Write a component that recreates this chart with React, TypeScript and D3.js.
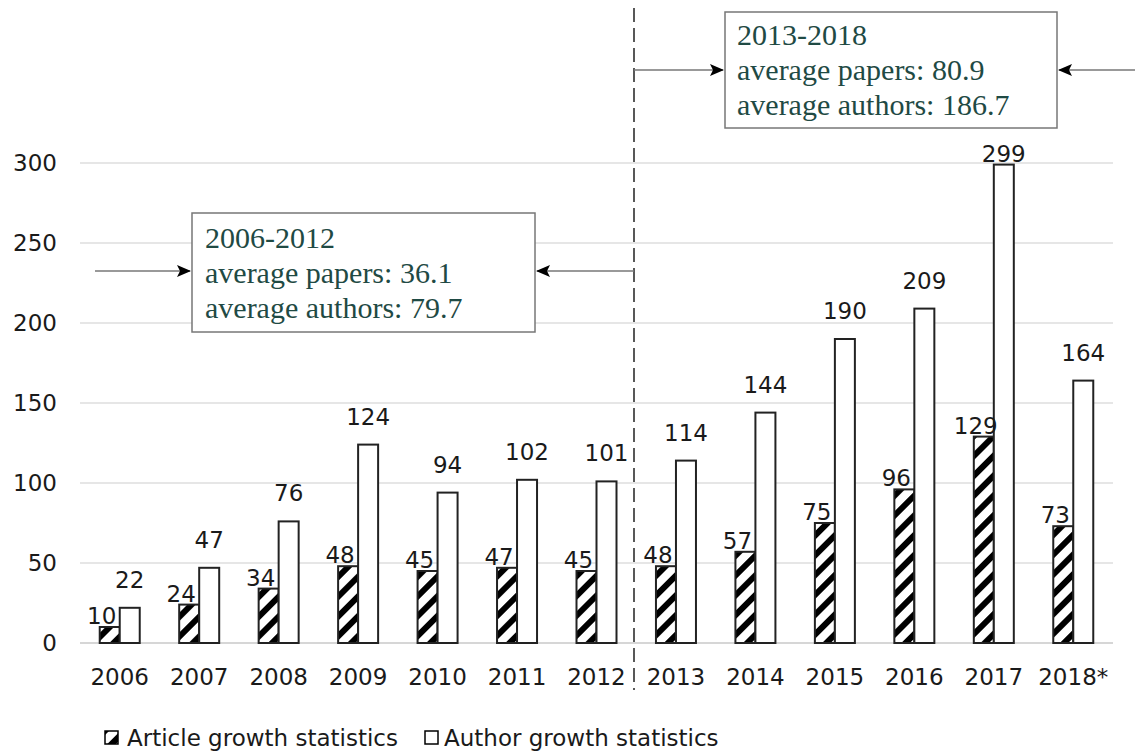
import React from "react";
import * as d3 from "d3";

const years = ["2006","2007","2008","2009","2010","2011","2012","2013","2014","2015","2016","2017","2018*"];
const articles = [10,24,34,48,45,47,45,48,57,75,96,129,73];
const authors = [22,47,76,124,94,102,101,114,144,190,209,299,164];
const yTicks = [0,50,100,150,200,250,300];
const box1Lines = ["2006-2012","average papers: 36.1","average authors: 79.7"];
const box2Lines = ["2013-2018","average papers: 80.9","average authors: 186.7"];
const legendLabels = ["Article growth statistics","Author growth statistics"];

const W = 1135, H = 751;
const SANS = "'DejaVu Sans', 'Open Sans', sans-serif";
const SERIF = "'Liberation Serif', 'DejaVu Serif', serif";
const TEAL = "#1f4a44";
const FS = 23;

export default function App() {
  const x = d3.scaleBand<string>().domain(years).range([80, 1113]).padding(0);
  const y = d3.scaleLinear().domain([0, 300]).range([643, 163]);
  const bw = 20;
  const plotTop = 163;

  const arrow = (x1: number, x2: number, yy: number, key: string) => (
    <line key={key} x1={x1} y1={yy} x2={x2} y2={yy} stroke="#777" strokeWidth={1.5} markerEnd="url(#arrowHead)" />
  );

  return (
    <svg width={W} height={H} style={{ position: "absolute", left: 0, top: 0, background: "#fff" }}>
      <defs>
        <pattern id="hatch" patternUnits="userSpaceOnUse" width={14} height={14} patternTransform="rotate(45)">
          <rect x={0} y={0} width={14} height={14} fill="#fff" />
          <rect x={0} y={0} width={6} height={14} fill="#000" />
        </pattern>
        <marker id="arrowHead" viewBox="0 0 14 12" refX={13} refY={6} markerWidth={14} markerHeight={12} markerUnits="userSpaceOnUse" orient="auto">
          <path d="M0,0 L14,6 L0,12 L3,6 Z" fill="#000" />
        </marker>
      </defs>
      <rect x={0} y={0} width={W} height={H} fill="#fff" />
      {yTicks.map((t) => (
        <g key={t}>
          <line x1={80} x2={1113} y1={y(t)} y2={y(t)} stroke={t === 0 ? "#c8c8c8" : "#dedede"} strokeWidth={1.5} />
          <text x={57} y={y(t)} dy="0.36em" textAnchor="end" fontFamily={SANS} fontSize={FS} fill="#1a1a1a">{t}</text>
        </g>
      ))}
      {years.map((yr, i) => {
        const c = (x(yr) as number) + x.bandwidth() / 2;
        const aTop = y(articles[i]);
        const uTop = y(authors[i]);
        const uLabelY = Math.max(uTop - 20, plotTop - 1);
        return (
          <g key={yr}>
            <rect x={c - bw} y={aTop} width={bw} height={y(0) - aTop} fill="url(#hatch)" stroke="#222" strokeWidth={2} />
            <rect x={c} y={uTop} width={bw} height={y(0) - uTop} fill="#fff" stroke="#222" strokeWidth={2} />
            <text x={c - bw / 2 - 8} y={aTop - 3} textAnchor="middle" fontFamily={SANS} fontSize={FS} fill="#1a1a1a">{articles[i]}</text>
            <text x={c + bw / 2} y={uLabelY} textAnchor="middle" fontFamily={SANS} fontSize={FS} fill="#1a1a1a">{authors[i]}</text>
            <text x={c} y={677} dy="0.36em" textAnchor="middle" fontFamily={SANS} fontSize={FS} fill="#1a1a1a">{yr}</text>
          </g>
        );
      })}
      <line x1={634} x2={634} y1={8} y2={690} stroke="#222" strokeWidth={1.5} strokeDasharray="14,6" />
      <rect x={192} y={213} width={343} height={119} fill="#fff" stroke="#777" strokeWidth={1.5} />
      {box1Lines.map((s, i) => (
        <text key={s} x={205} y={248 + i * 35} fontFamily={SERIF} fontSize={30} fill={TEAL}>{s}</text>
      ))}
      {arrow(95, 190, 271, "a1")}
      {arrow(634, 537, 271, "a2")}
      <rect x={725} y={12} width={332} height={116} fill="#fff" stroke="#777" strokeWidth={1.5} />
      {box2Lines.map((s, i) => (
        <text key={s} x={737} y={45 + i * 35} fontFamily={SERIF} fontSize={30} fill={TEAL}>{s}</text>
      ))}
      {arrow(634, 723, 70, "a3")}
      {arrow(1135, 1059, 70, "a4")}
      <rect x={105} y={731} width={13} height={13} fill="url(#hatch)" stroke="#000" strokeWidth={1.5} />
      <text x={127} y={738} dy="0.36em" fontFamily={SANS} fontSize={FS} fill="#1a1a1a">{legendLabels[0]}</text>
      <rect x={425} y={731} width={13} height={13} fill="#fff" stroke="#000" strokeWidth={1.5} />
      <text x={444} y={738} dy="0.36em" fontFamily={SANS} fontSize={FS} fill="#1a1a1a">{legendLabels[1]}</text>
    </svg>
  );
}
